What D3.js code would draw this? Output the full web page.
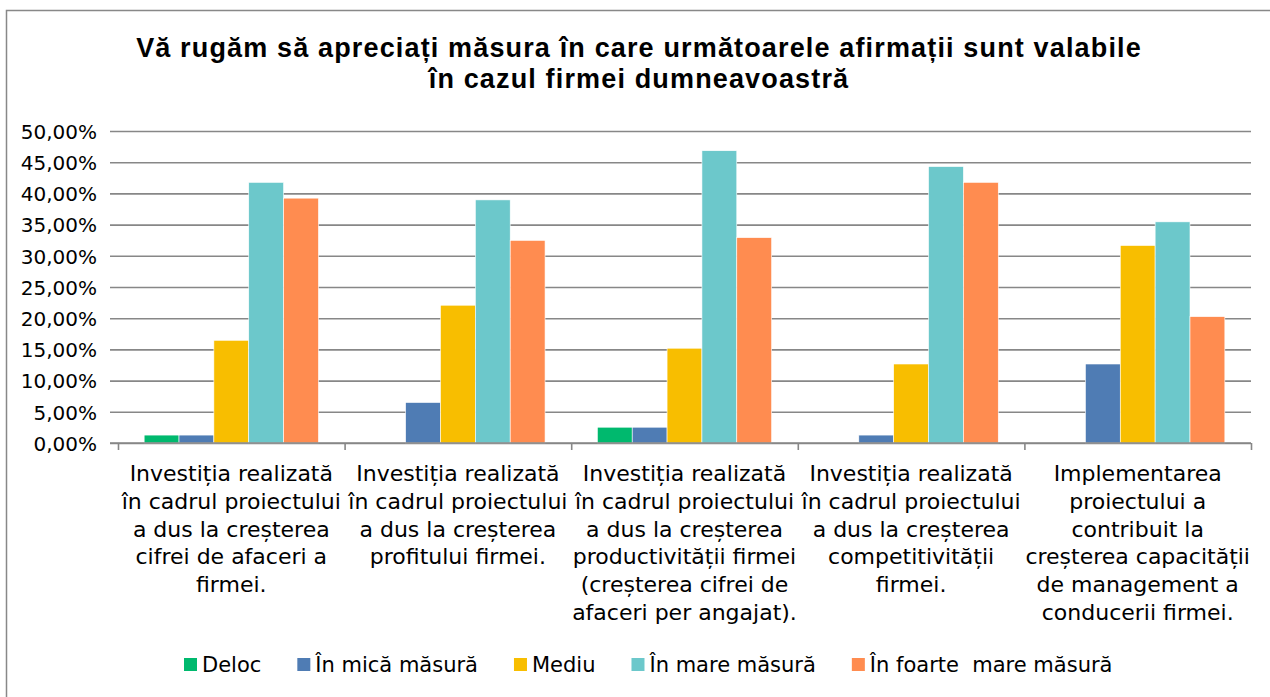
<!DOCTYPE html>
<html>
<head>
<meta charset="utf-8">
<script src="https://cdn.jsdelivr.net/npm/d3@7"></script>
<style>
  html, body { margin: 0; padding: 0; background: #fff; }
  svg { display: block; }
  text { white-space: pre; }
</style>
</head>
<body>
<svg id="chart" width="1270" height="697"></svg>
<script>
const titleLines = [
  "Vă rugăm să apreciați măsura în care următoarele afirmații sunt valabile",
  "în cazul firmei dumneavoastră"
];
const categories = ["c1", "c2", "c3", "c4", "c5"];
const categoryLabels = [
  ["Investiția realizată", "în cadrul proiectului", "a dus la creșterea", "cifrei de afaceri a", "firmei."],
  ["Investiția realizată", "în cadrul proiectului", "a dus la creșterea", "profitului firmei."],
  ["Investiția realizată", "în cadrul proiectului", "a dus la creșterea", "productivității firmei", "(creșterea cifrei de", "afaceri per angajat)."],
  ["Investiția realizată", "în cadrul proiectului", "a dus la creșterea", "competitivității", "firmei."],
  ["Implementarea", "proiectului a", "contribuit la", "creșterea capacității", "de management a", "conducerii firmei."]
];
const seriesNames = ["Deloc", "În mică măsură", "Mediu", "În mare măsură", "În foarte  mare măsură"];
const seriesColors = ["#00b96e", "#4f7cb4", "#f8be00", "#6cc8cb", "#ff8c50"];
const deloc = [1.27, 0, 2.53, 0, 0];
const inMica = [1.27, 6.49, 2.53, 1.27, 12.66];
const mediu = [16.46, 22.08, 15.19, 12.66, 31.65];
const inMare = [41.77, 38.96, 46.84, 44.30, 35.44];
const inFoarteMare = [39.24, 32.47, 32.91, 41.77, 20.25];
const yTicks = [0, 5, 10, 15, 20, 25, 30, 35, 40, 45, 50];

const seriesValues = [deloc, inMica, mediu, inMare, inFoarteMare];

const svg = d3.select("#chart");
const FONT = "'DejaVu Sans', sans-serif";

// outer frame
svg.append("rect")
  .attr("x", 6.5).attr("y", 10.5)
  .attr("width", 1400).attr("height", 900)
  .attr("fill", "#fff").attr("stroke", "#888").attr("stroke-width", 1.5);

// title
svg.append("g").selectAll("text").data(titleLines).join("text")
  .attr("x", 639).attr("y", (d, i) => 57 + i * 31)
  .attr("text-anchor", "middle")
  .attr("font-family", "'Liberation Sans', Arial, sans-serif")
  .attr("font-weight", "bold").attr("font-size", 27)
  .attr("letter-spacing", 1.15)
  .attr("fill", "#000")
  .text(d => d);

const plot = { left: 118, right: 1251, top: 131, bottom: 443 };

const x0 = d3.scaleBand().domain(categories).range([plot.left, plot.right]).padding(0);
const x1 = d3.scaleBand().domain(seriesNames).range([0, x0.bandwidth()]).paddingInner(0).paddingOuter(0.75);
const y = d3.scaleLinear().domain([0, 50]).range([plot.bottom, plot.top]);

// gridlines + y axis
const yAxis = d3.axisLeft(y)
  .tickValues(yTicks)
  .tickSize(-(plot.right - plot.left) - 8)
  .tickFormat(d => d3.format(".2f")(d).replace(".", ",") + "%");

const gy = svg.append("g")
  .attr("transform", `translate(${plot.right},0)`)
  .call(yAxis);
gy.select(".domain").remove();
gy.selectAll(".tick line")
  .attr("stroke", "#878787").attr("stroke-width", 1.6)
  .attr("x1", -(plot.right - plot.left) - 8).attr("x2", 0);
gy.selectAll(".tick text")
  .attr("x", -(plot.right - 97))
  .attr("dy", "0.36em")
  .attr("font-family", FONT).attr("font-size", 20)
  .attr("fill", "#000")
  .attr("text-anchor", "end");

// bars
const groups = svg.append("g").selectAll("g").data(categories).join("g")
  .attr("transform", d => `translate(${x0(d)},0)`);

groups.selectAll("rect")
  .data((c, ci) => seriesNames.map((s, si) => ({ s, si, v: seriesValues[si][ci] })))
  .join("rect")
  .attr("x", d => x1(d.s))
  .attr("y", d => y(d.v))
  .attr("width", x1.bandwidth())
  .attr("height", d => y(0) - y(d.v))
  .attr("fill", d => seriesColors[d.si])
  .attr("stroke", "#fff").attr("stroke-width", 0.6);

// x axis
const xAxis = d3.axisBottom(d3.scaleLinear().domain([0, categories.length]).range([plot.left, plot.right]))
  .tickValues(d3.range(categories.length + 1))
  .tickSize(7)
  .tickFormat("");
const gx = svg.append("g").attr("transform", `translate(0,${plot.bottom})`).call(xAxis);
gx.select(".domain").attr("stroke", "#878787").attr("stroke-width", 1.6)
  .attr("d", `M${plot.left - 8},0H${plot.right}`);
gx.selectAll(".tick line").attr("stroke", "#878787").attr("stroke-width", 1.6);

// category labels
const labelG = svg.append("g").selectAll("text").data(categories).join("text")
  .attr("text-anchor", "middle")
  .attr("font-family", FONT).attr("font-size", 22)
  .attr("fill", "#000");
labelG.each(function (c, ci) {
  d3.select(this).selectAll("tspan").data(categoryLabels[ci]).join("tspan")
    .attr("x", x0(c) + x0.bandwidth() / 2)
    .attr("y", (d, i) => 481 + i * 27.8)
    .text(d => d);
});

// legend
const legend = svg.append("g").attr("transform", "translate(184,0)");
let lx = 0;
seriesNames.forEach((name, i) => {
  const item = legend.append("g").attr("transform", `translate(${lx},0)`);
  item.append("rect").attr("x", 0).attr("y", 658).attr("width", 13).attr("height", 13)
    .attr("fill", seriesColors[i]);
  const t = item.append("text").attr("x", 18).attr("y", 672)
    .attr("font-family", FONT).attr("font-size", 21).attr("fill", "#000")
    .text(name);
  const w = t.node().getComputedTextLength();
  lx += 18 + w + 36;
});
</script>
</body>
</html>
